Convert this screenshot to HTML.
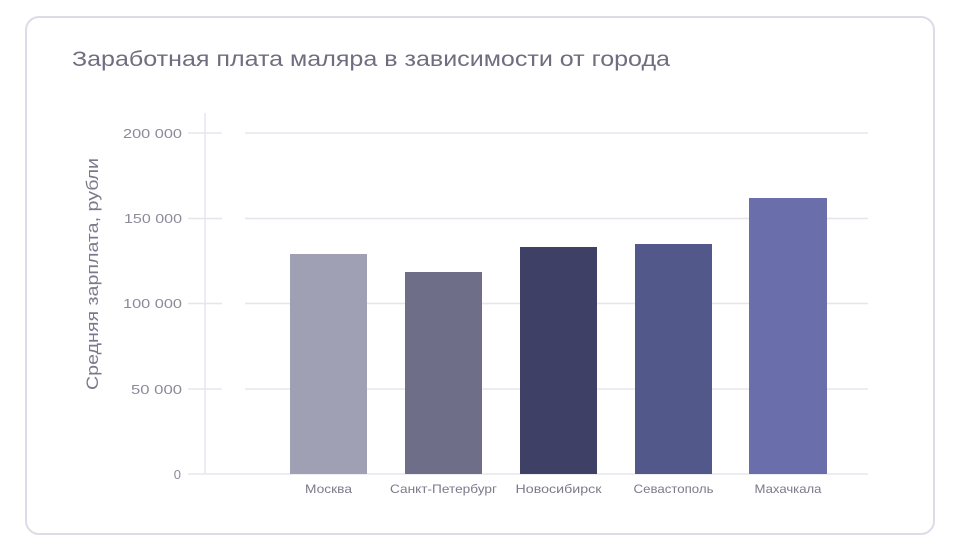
<!DOCTYPE html>
<html><head><meta charset="utf-8"><style>
body{margin:0;width:961px;height:550px;background:#fff;overflow:hidden;font-family:"Liberation Sans",sans-serif}
.card{position:absolute;left:25px;top:16px;width:910px;height:519px;border:2px solid #dcdbe8;border-radius:14px;box-sizing:border-box}
</style></head><body>
<div class="card"></div>
<svg width="961" height="550" style="position:absolute;left:0;top:0" font-family="Liberation Sans, sans-serif">
<text x="72" y="66" font-size="21" fill="#6e6e80" textLength="598" lengthAdjust="spacingAndGlyphs">Заработная плата маляра в зависимости от города</text>
<g stroke="#e6e5ee" stroke-width="1.5">
<line x1="188" y1="133" x2="222" y2="133"/><line x1="245" y1="133" x2="868" y2="133"/>
<line x1="188" y1="218.5" x2="222" y2="218.5"/><line x1="245" y1="218.5" x2="868" y2="218.5"/>
<line x1="188" y1="303.5" x2="222" y2="303.5"/><line x1="245" y1="303.5" x2="868" y2="303.5"/>
<line x1="188" y1="389" x2="222" y2="389"/><line x1="245" y1="389" x2="868" y2="389"/>
<line x1="188" y1="474" x2="868" y2="474"/>
<line x1="205" y1="113" x2="205" y2="474"/>
</g>
<g font-size="13" fill="#8a8a9a" text-anchor="end">
<text x="182" y="138" textLength="59" lengthAdjust="spacingAndGlyphs">200 000</text><text x="182" y="223" textLength="58" lengthAdjust="spacingAndGlyphs">150 000</text><text x="182" y="308" textLength="59" lengthAdjust="spacingAndGlyphs">100 000</text><text x="182" y="394" textLength="51" lengthAdjust="spacingAndGlyphs">50 000</text><text x="181" y="479">0</text>
</g>
<text transform="translate(98,274) rotate(-90)" font-size="17" fill="#7a7a8c" text-anchor="middle" textLength="232" lengthAdjust="spacingAndGlyphs">Средняя зарплата, рубли</text>
<rect x="290" y="254" width="77" height="220" fill="#a0a0b4"/>
<rect x="405" y="272" width="77" height="202" fill="#6e6e89"/>
<rect x="520" y="247" width="77" height="227" fill="#3e4066"/>
<rect x="635" y="244" width="77" height="230" fill="#52588a"/>
<rect x="749" y="198" width="78" height="276" fill="#6a6fab"/>
<g font-size="12" fill="#7a7a8c" text-anchor="middle">
<text x="328.5" y="493" textLength="47" lengthAdjust="spacingAndGlyphs">Москва</text><text x="443.5" y="493" textLength="107" lengthAdjust="spacingAndGlyphs">Санкт-Петербург</text><text x="558.5" y="493" textLength="86" lengthAdjust="spacingAndGlyphs">Новосибирск</text><text x="673.5" y="493" textLength="80" lengthAdjust="spacingAndGlyphs">Севастополь</text><text x="788" y="493" textLength="67" lengthAdjust="spacingAndGlyphs">Махачкала</text>
</g>
</svg>
</body></html>
